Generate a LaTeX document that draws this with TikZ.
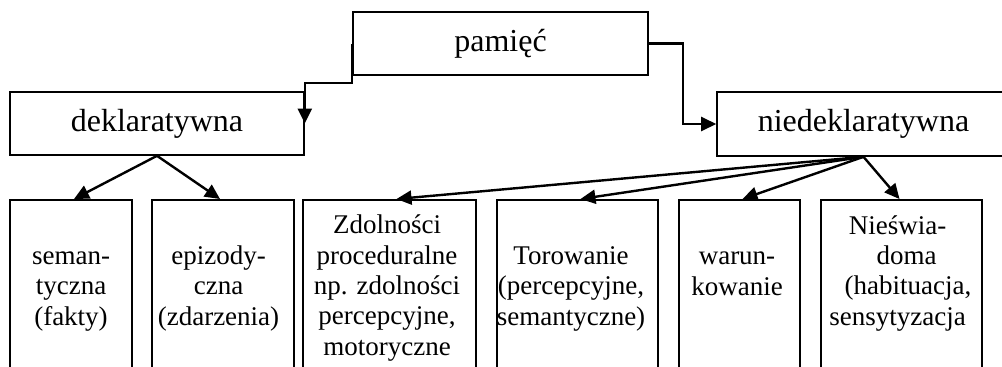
\documentclass[tikz,border=0pt]{standalone}
\usepackage{fontspec}
\setmainfont{Liberation Serif}
\usetikzlibrary{arrows.meta,calc}
\begin{document}
\begin{tikzpicture}[x=1pt,y=-1pt,
  box/.style={draw,line width=1.6pt,rectangle,inner sep=0pt},
  topbox/.style={box,minimum width=295pt,minimum height=63pt,font=\fontsize{32}{38}\selectfont},
  lowbox/.style={box,anchor=north,minimum height=200pt},
  lbl/.style={anchor=base,inner sep=0pt,align=center,font=\fontsize{27}{30.3}\selectfont},
  conn/.style={line width=2.4pt,-{Triangle[length=15pt,width=14pt]}}]
\useasboundingbox (0,0) rectangle (1002,367);
\clip (0,0) rectangle (1002,367);

\node[topbox] (pam) at (500.5,43.5) {pamięć};
\node[topbox,minimum width=294pt] (dek) at (157,123.5) {deklaratywna};
\node[topbox,minimum width=293pt,minimum height=64pt] (nied) at (863.5,124) {niedeklaratywna};

\node[lowbox,minimum width=122pt] (b1) at (71,199) {};
\node[lowbox,minimum width=142pt] (b2) at (223,199) {};
\node[lowbox,minimum width=173pt] (b3) at (389.5,199) {};
\node[lowbox,minimum width=161pt] (b4) at (577.5,199) {};
\node[lowbox,minimum width=121pt] (b5) at (739.5,199) {};
\node[lowbox,minimum width=161pt] (b6) at (901.5,199) {};

% anchor=base lies on the last line's baseline
\node[lbl] (t1) at (71,325) {seman-\\tyczna\\(fakty)};
\node[lbl] (t2) at (218.5,325) {epizody-\\czna\\(zdarzenia)};
\node[lbl] (t3) at (387,355) {Zdolności\\proceduralne\\np. zdolności\\percepcyjne,\\motoryczne};
\node[lbl] (t4) at (571,325) {Torowanie\\(percepcyjne,\\semantyczne)};
\node[lbl] (t5) at (737,295) {warun-\\kowanie};
\node[lbl] (t6) at (897.5,325) {Nieświa-\\\hspace*{18pt}doma\\\hspace*{21pt}(habituacja,\\sensytyzacja};

\draw[conn] (pam.west) -- ++(0,39.5) -| (dek.east);
\draw[conn] (pam.east) -- ++(34,0) |- (nied.west);

\draw[conn] (dek.south) -- ($(b1.north)+(3,0)$);
\draw[conn] (dek.south) -- ($(b2.north)+(-3,0)$);
\draw[conn] (nied.south) -- ($(b3.north)+(7,0)$);
\draw[conn] (nied.south) -- ($(b4.north)+(3,0)$);
\draw[conn] (nied.south) -- ($(b5.north)+(3,0)$);
\draw[conn] (nied.south) -- ($(b6.north)+(-2,0)$);
\end{tikzpicture}
\end{document}
